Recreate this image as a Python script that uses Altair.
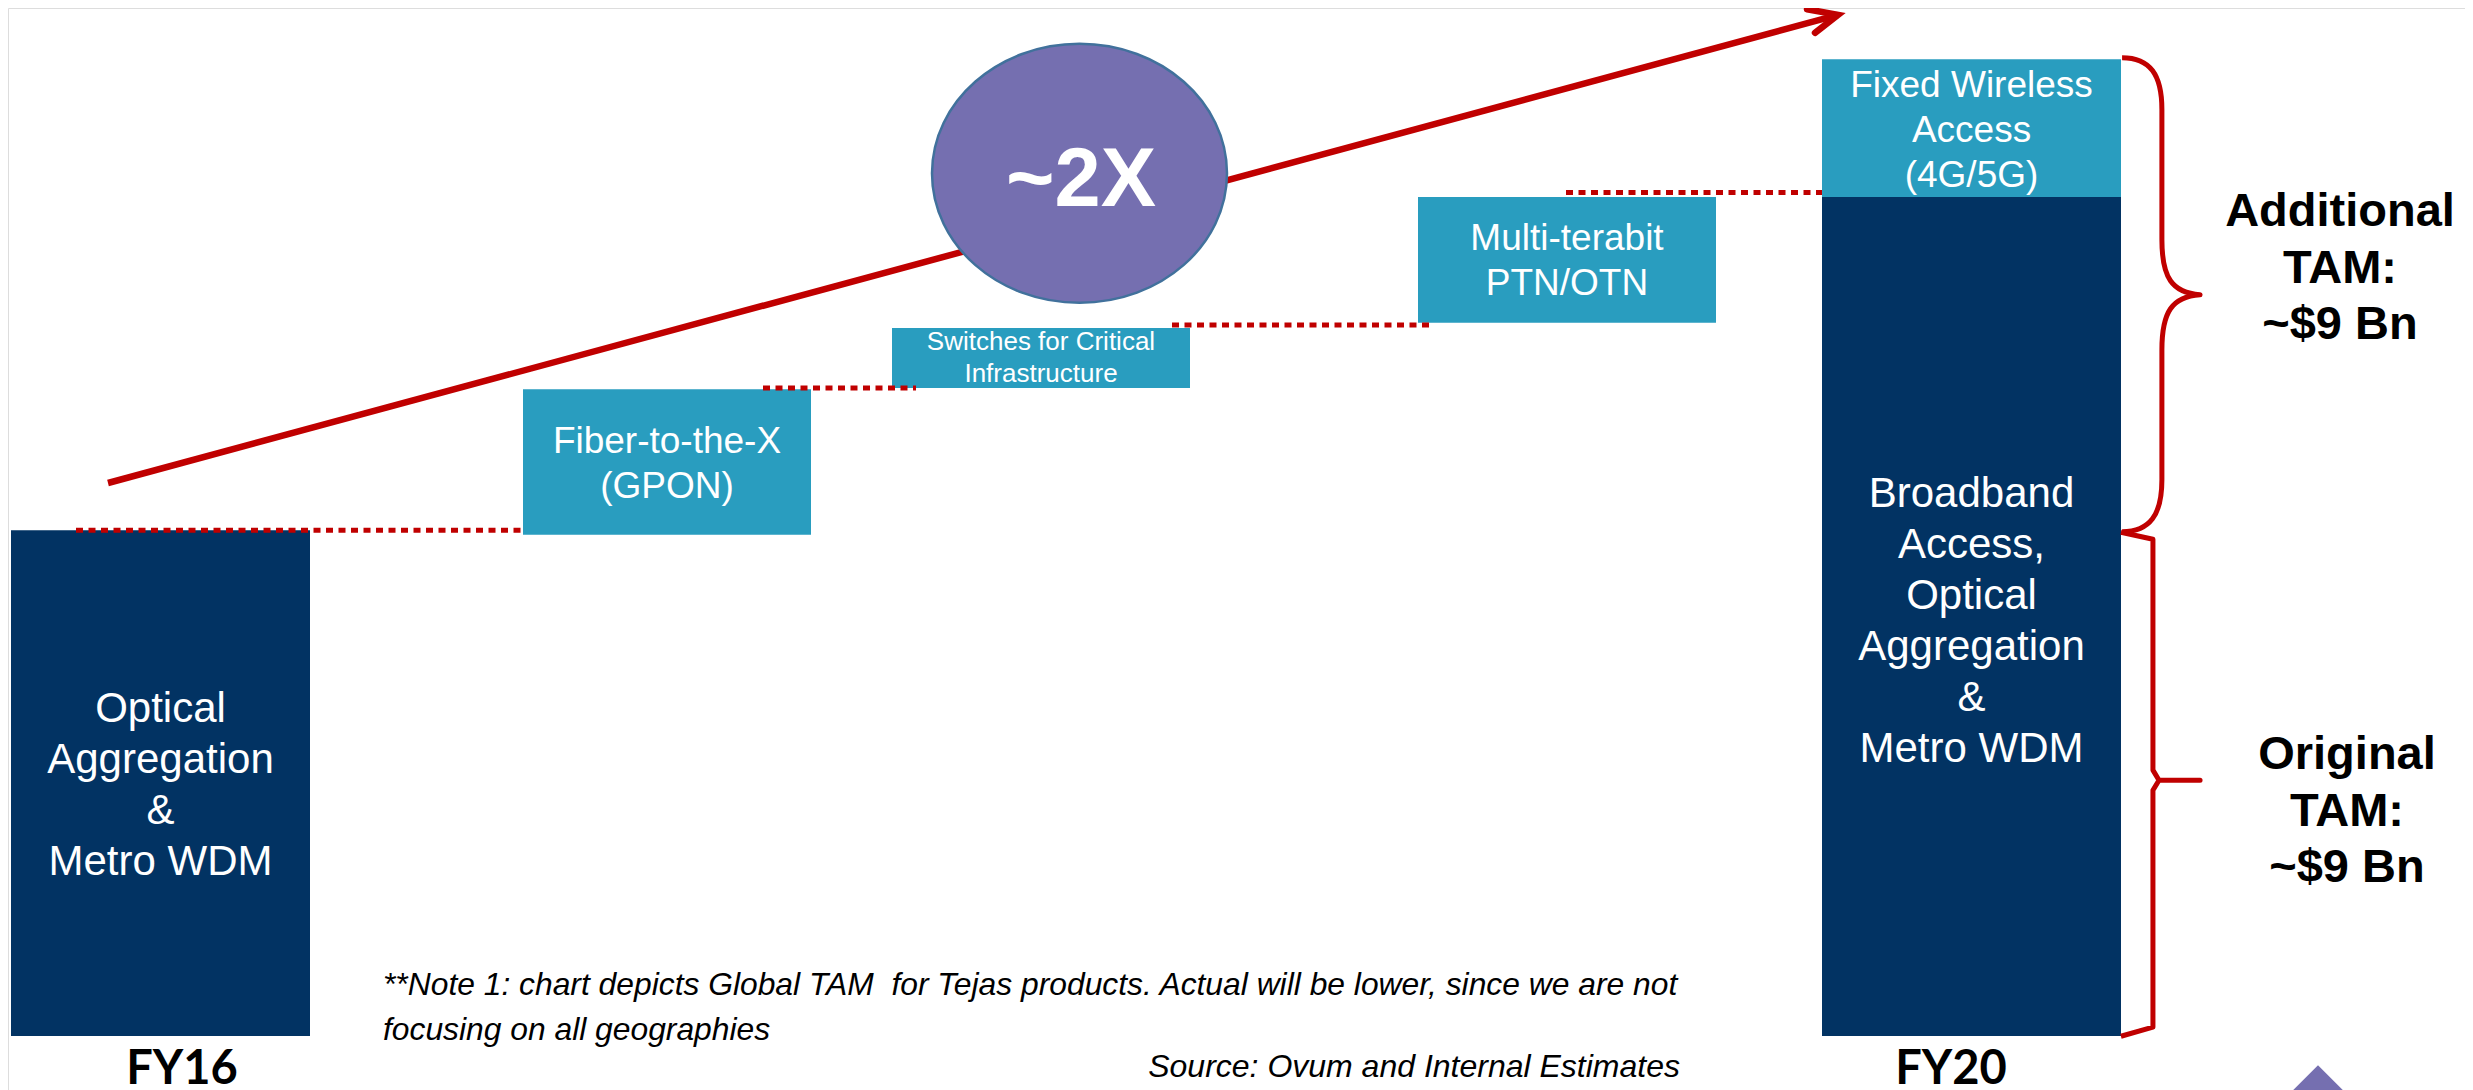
import altair as alt
import pandas as pd

# ---------------- data ----------------
# waterfall blocks (x in layout units, value in TAM units ~ $Bn)
box_names = ["FY16 base", "Fiber-to-the-X", "Switches", "Multi-terabit", "FY20 base", "FWA"]
box_x0 = [3, 515, 884, 1410, 1814, 1814]
box_x1 = [302, 803, 1182, 1708, 2113, 2113]
box_v0 = [0.0, 8.92, 11.53, 12.69, 0.0, 14.93]
box_v1 = [9.0, 11.51, 12.60, 14.93, 14.93, 17.38]
box_kind = ["core", "growth", "growth", "growth", "core", "growth"]

box_labels = [
    "Optical\nAggregation\n&\nMetro WDM",
    "Fiber-to-the-X\n(GPON)",
    "Switches for Critical\nInfrastructure",
    "Multi-terabit\nPTN/OTN",
    "Broadband\nAccess,\nOptical\nAggregation\n&\nMetro WDM",
    "Fixed Wireless\nAccess\n(4G/5G)",
]
box_label_v = [5.59, 10.37, 12.21, 13.99, 9.41, 16.71]

# dotted connectors between steps
dot_x0 = [68, 755, 1164, 1558]
dot_x1 = [515, 908, 1425, 1814]
dot_v = [9.0, 11.53, 12.65, 15.01]

# growth arrow
arrow_x = [100, 1830]
arrow_v = [9.84, 18.17]
head_x = [1799, 1830, 1807]
head_v = [18.27, 18.17, 17.85]

# ~2X bubble
bubble_x = [1071.5]
bubble_v = [15.35]
bubble_text = ["~2X"]
bubble_text_x = [1073]
bubble_text_v = [14.77]

# braces
brace_names = ["additional", "original"]
brace_x = [2152, 2152]
brace_v = [13.19, 4.48]

# TAM annotations
tam_text = ["Additional\nTAM:\n~$9 Bn", "Original\nTAM:\n~$9 Bn"]
tam_x = [2332, 2339]
tam_v = [14.41, 4.75]

# year labels
year_text = ["FY16", "FY20"]
year_x = [174, 1943]
year_v = [-0.86, -0.86]

note_text = ["**Note 1: chart depicts Global TAM \u00a0for Tejas products. Actual will be lower, since we are not\nfocusing on all geographies"]
note_x = [375]
note_v = [0.73]
source_text = ["Source: Ovum and Internal Estimates"]
source_x = [1672]
source_v = [-0.73]

badge_x = [2310]
badge_v = [-1.23]

# ---------------- style ----------------
NAVY = "#023363"
TEAL = "#299DBF"
RED = "#C00000"
PURPLE = "#756FB0"
FONT = "Liberation Sans"

W, H = 2457, 1120
xs = alt.Scale(domain=[0, 2457], nice=False, zero=False)
ys = alt.Scale(domain=[-1.637, 18.292], nice=False, zero=False)


def X(f):
    return alt.X(f, type="quantitative", scale=xs, axis=None)


def Y(f):
    return alt.Y(f, type="quantitative", scale=ys, axis=None)


boxes = pd.DataFrame({
    "name": box_names, "x0": box_x0, "x1": box_x1,
    "v0": box_v0, "v1": box_v1, "kind": box_kind,
    "label": box_labels, "lv": box_label_v,
})
boxes["xc"] = (boxes["x0"] + boxes["x1"]) / 2

rects = alt.Chart(boxes).mark_rect().encode(
    x=X("x0"), x2=alt.X2("x1"), y=Y("v0"), y2=alt.Y2("v1"),
    color=alt.Color("kind:N", scale=alt.Scale(domain=["core", "growth"], range=[NAVY, TEAL]), legend=None),
)

dots = alt.Chart(pd.DataFrame({"x0": dot_x0, "x1": dot_x1, "v": dot_v})).mark_rule(
    color=RED, strokeWidth=5, strokeDash=[7, 5.5], strokeCap="butt"
).encode(x=X("x0"), x2=alt.X2("x1"), y=Y("v"))

arrow = alt.Chart(pd.DataFrame({"x": arrow_x, "v": arrow_v, "i": [0, 1]})).mark_line(
    color=RED, strokeWidth=6.5, strokeCap="butt"
).encode(x=X("x"), y=Y("v"), order="i:Q")

head = alt.Chart(pd.DataFrame({"x": head_x, "v": head_v, "i": [0, 1, 2]})).mark_line(
    color=RED, strokeWidth=6.5, strokeCap="round", strokeJoin="miter"
).encode(x=X("x"), y=Y("v"), order="i:Q")

ELLIPSE = ("M -1 0 C -1 -0.485 -0.5523 -0.878 0 -0.878 C 0.5523 -0.878 1 -0.485 1 0 "
           "C 1 0.485 0.5523 0.878 0 0.878 C -0.5523 0.878 -1 0.485 -1 0 Z")
bubble = alt.Chart(pd.DataFrame({"x": bubble_x, "v": bubble_v})).mark_point(
    shape=ELLIPSE, size=295 ** 2, filled=True, color=PURPLE, fill=PURPLE,
    stroke="#41719C", strokeWidth=2.5, opacity=1, fillOpacity=1, strokeOpacity=1
).encode(x=X("x"), y=Y("v"))

bubble_lbl = alt.Chart(pd.DataFrame({"x": bubble_text_x, "v": bubble_text_v, "t": bubble_text})).mark_text(
    font=FONT, fontSize=83, fontWeight="bold", color="white", align="center", baseline="alphabetic"
).encode(x=X("x"), y=Y("v"), text="t:N")

CURLY = ("M -0.160 -1 C -0.042 -1 0.008 -0.928 0.008 -0.781 L 0.008 -0.232 "
         "C 0.008 -0.072 0.051 -0.008 0.169 0 C 0.051 0.008 0.008 0.072 0.008 0.232 "
         "L 0.008 0.781 C 0.008 0.928 -0.042 1 -0.160 1")
SQUARE = ("M -0.155 -1 L -0.028 -0.972 L -0.028 -0.056 L -0.004 -0.016 L 0.159 -0.016 "
          "L -0.004 -0.016 L -0.028 0.024 L -0.028 0.964 L -0.155 1")
braces_df = pd.DataFrame({"name": brace_names, "x": brace_x, "v": brace_v})
brace_up = alt.Chart(braces_df).transform_filter(alt.datum.name == "additional").mark_point(
    shape=CURLY, size=474 ** 2, filled=False, color=RED, strokeWidth=5, opacity=1, strokeJoin="round"
).encode(x=X("x"), y=Y("v"))
brace_lo = alt.Chart(braces_df).transform_filter(alt.datum.name == "original").mark_point(
    shape=SQUARE, size=504 ** 2, filled=False, color=RED, strokeWidth=5, opacity=1, strokeJoin="round"
).encode(x=X("x"), y=Y("v"))


def box_text(names, size, lh):
    return alt.Chart(boxes).transform_filter(
        alt.FieldOneOfPredicate(field="name", oneOf=names)
    ).mark_text(
        font=FONT, fontSize=size, lineHeight=lh, lineBreak="\n", color="white",
        align="center", baseline="alphabetic"
    ).encode(x=X("xc"), y=Y("lv"), text="label:N")


txt_big = box_text(["FY16 base", "FY20 base"], 42, 51)
txt_mid = box_text(["Fiber-to-the-X", "Multi-terabit", "FWA"], 37, 45)
txt_small = box_text(["Switches"], 26, 32)

tam = alt.Chart(pd.DataFrame({"x": tam_x, "v": tam_v, "t": tam_text})).mark_text(
    font=FONT, fontSize=47, fontWeight="bold", lineHeight=56.5, lineBreak="\n",
    color="black", align="center", baseline="alphabetic"
).encode(x=X("x"), y=Y("v"), text="t:N")

years = alt.Chart(pd.DataFrame({"x": year_x, "v": year_v, "t": year_text})).mark_text(
    font="Lato", fontSize=47, fontWeight="bold", color="black", align="center", baseline="alphabetic"
).encode(x=X("x"), y=Y("v"), text="t:N")

note = alt.Chart(pd.DataFrame({"x": note_x, "v": note_v, "t": note_text})).mark_text(
    font=FONT, fontSize=31.8, fontStyle="italic", lineHeight=45, lineBreak="\n",
    color="black", align="left", baseline="alphabetic"
).encode(x=X("x"), y=Y("v"), text="t:N")

source = alt.Chart(pd.DataFrame({"x": source_x, "v": source_v, "t": source_text})).mark_text(
    font=FONT, fontSize=32, fontStyle="italic", color="black", align="right", baseline="alphabetic"
).encode(x=X("x"), y=Y("v"), text="t:N")

badge = alt.Chart(pd.DataFrame({"x": badge_x, "v": badge_v})).mark_point(
    shape="diamond", size=6400, filled=True, color=PURPLE, opacity=1
).encode(x=X("x"), y=Y("v"))

chart = alt.layer(
    arrow, head, rects, dots, bubble, bubble_lbl, brace_up, brace_lo,
    txt_big, txt_mid, txt_small, tam, years, note, source, badge
).properties(
    width=W, height=H, padding=0, autosize=alt.AutoSizeParams(type="none")
).configure_view(strokeWidth=0, strokeOpacity=0).configure(background="white")

chart.save("out.html", embed_options={"renderer": "svg", "actions": False})
